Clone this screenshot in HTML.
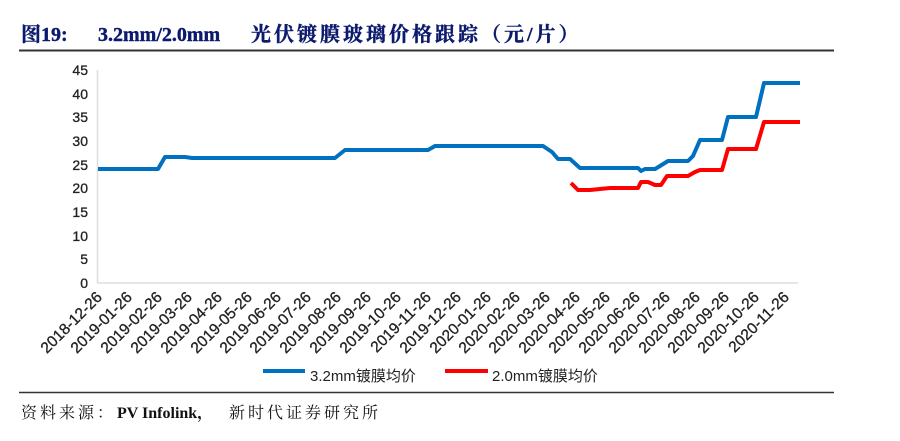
<!DOCTYPE html>
<html><head><meta charset="utf-8"><style>
html,body{margin:0;padding:0;background:#fff;}
body{width:900px;height:441px;overflow:hidden;position:relative;}
</style></head><body>
<svg width="900" height="441" xmlns="http://www.w3.org/2000/svg" style="position:absolute;left:0;top:0">
<g font-family="Liberation Serif, 'Noto Serif CJK SC', serif" font-weight="bold" font-size="20" fill="#0c1a6e" stroke="#0c1a6e" stroke-width="0.4">
<text x="21" y="41">图19:</text>
<text x="98" y="41">3.2mm/2.0mm</text>
<text x="251" y="41" letter-spacing="3">光伏镀膜玻璃价格跟踪（元/片）</text>
</g>
<line x1="19" y1="50.5" x2="834" y2="50.5" stroke="#333" stroke-width="2"/>
<g font-family="Liberation Sans, sans-serif" font-size="14" fill="#222" text-anchor="end" stroke="#222" stroke-width="0.3">
<text x="88" y="288">0</text><text x="88" y="264">5</text><text x="88" y="241">10</text><text x="88" y="217">15</text><text x="88" y="193">20</text><text x="88" y="170">25</text><text x="88" y="146">30</text><text x="88" y="122">35</text><text x="88" y="99">40</text><text x="88" y="75">45</text>
</g>
<line x1="97.5" y1="70" x2="97.5" y2="283" stroke="#ddd" stroke-width="1.5"/>
<line x1="97" y1="283" x2="798" y2="283" stroke="#ddd" stroke-width="1.5"/>
<g font-family="Liberation Sans, sans-serif" font-size="15.5" fill="#222" text-anchor="end" stroke="#222" stroke-width="0.3">
<text transform="translate(103,298) rotate(-45)">2018-12-26</text>
<text transform="translate(133,298) rotate(-45)">2019-01-26</text>
<text transform="translate(163,298) rotate(-45)">2019-02-26</text>
<text transform="translate(193,298) rotate(-45)">2019-03-26</text>
<text transform="translate(223,298) rotate(-45)">2019-04-26</text>
<text transform="translate(253,298) rotate(-45)">2019-05-26</text>
<text transform="translate(282,298) rotate(-45)">2019-06-26</text>
<text transform="translate(312,298) rotate(-45)">2019-07-26</text>
<text transform="translate(342,298) rotate(-45)">2019-08-26</text>
<text transform="translate(372,298) rotate(-45)">2019-09-26</text>
<text transform="translate(402,298) rotate(-45)">2019-10-26</text>
<text transform="translate(432,298) rotate(-45)">2019-11-26</text>
<text transform="translate(462,298) rotate(-45)">2019-12-26</text>
<text transform="translate(492,298) rotate(-45)">2020-01-26</text>
<text transform="translate(521,298) rotate(-45)">2020-02-26</text>
<text transform="translate(551,298) rotate(-45)">2020-03-26</text>
<text transform="translate(581,298) rotate(-45)">2020-04-26</text>
<text transform="translate(611,298) rotate(-45)">2020-05-26</text>
<text transform="translate(641,298) rotate(-45)">2020-06-26</text>
<text transform="translate(671,298) rotate(-45)">2020-07-26</text>
<text transform="translate(701,298) rotate(-45)">2020-08-26</text>
<text transform="translate(730,298) rotate(-45)">2020-09-26</text>
<text transform="translate(760,298) rotate(-45)">2020-10-26</text>
<text transform="translate(790,298) rotate(-45)">2020-11-26</text>
</g>
<polyline fill="none" stroke="#0070c0" stroke-width="4" stroke-linejoin="round" points="98,169 158,169 165,157 185,157 192,158 335,158 345,150 428,150 435,146 543,146 552,152 558,159 570,159 580,168 638,168 641,171 645,169 655,169 660,166 668,161 688,161 693,156 700,140 722,140 728,117 756,117 764,83 800,83"/>
<polyline fill="none" stroke="#ff0000" stroke-width="4" stroke-linejoin="round" points="571,183 578,190 590,190 600,189 610,188 638,188 641,182 648,182 655,185 661,185 667,176 688,176 695,172 700,170 722,170 728,149 756,149 764,122 800,122"/>
<line x1="263" y1="371" x2="305" y2="371" stroke="#0070c0" stroke-width="4"/>
<text x="310" y="381" font-family="Liberation Sans, 'Noto Sans CJK SC', sans-serif" font-size="15" fill="#222">3.2mm镀膜均价</text>
<line x1="445" y1="371" x2="488" y2="371" stroke="#ff0000" stroke-width="4"/>
<text x="492" y="381" font-family="Liberation Sans, 'Noto Sans CJK SC', sans-serif" font-size="15" fill="#222">2.0mm镀膜均价</text>
<line x1="19" y1="392.5" x2="834" y2="392.5" stroke="#333" stroke-width="1.5"/>
<g font-family="Liberation Serif, 'Noto Serif CJK SC', serif" font-size="16" fill="#111">
<text x="21" y="418" letter-spacing="3">资料来源：</text>
<text x="117" y="418" font-weight="bold">PV Infolink，</text>
<text x="229" y="418" letter-spacing="3">新时代证券研究所</text>
</g>
</svg>
</body></html>
